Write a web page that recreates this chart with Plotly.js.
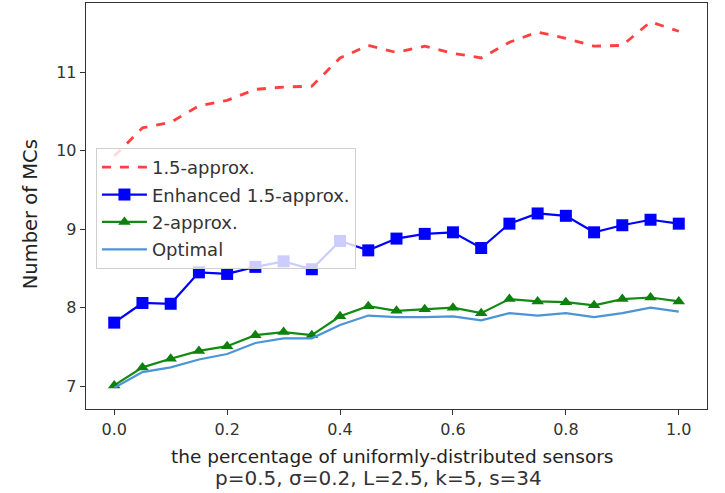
<!DOCTYPE html>
<html>
<head>
<meta charset="utf-8">
<script src="https://cdn.plot.ly/plotly-3.0.1.min.js"></script>
<style>html,body{margin:0;padding:0;background:#fff;}</style>
</head>
<body>
<div id="chart" style="width:725px;height:493px;"></div>
<script>
const xValues = [0.0,0.05,0.1,0.15,0.2,0.25,0.3,0.35,0.4,0.45,0.5,0.55,0.6,0.65,0.7,0.75,0.8,0.85,0.9,0.95,1.0];
const approx15 = [9.93,10.29,10.36,10.57,10.64,10.78,10.81,10.82,11.18,11.34,11.25,11.33,11.24,11.18,11.38,11.51,11.43,11.33,11.34,11.64,11.52];
const enhanced15 = [7.81,8.06,8.05,8.45,8.43,8.52,8.59,8.49,8.85,8.73,8.88,8.94,8.96,8.76,9.07,9.20,9.17,8.96,9.05,9.12,9.07];
const approx2 = [7.01,7.24,7.35,7.45,7.51,7.65,7.69,7.65,7.89,8.02,7.96,7.98,8.00,7.93,8.11,8.08,8.07,8.03,8.11,8.13,8.08];
const optimal = [6.98,7.18,7.24,7.34,7.41,7.55,7.61,7.61,7.78,7.90,7.88,7.88,7.89,7.84,7.93,7.90,7.93,7.88,7.93,8.00,7.95];
const seriesNames = ["1.5-approx.","Enhanced 1.5-approx.","2-approx.","Optimal"];
const xTicks = [0.0,0.2,0.4,0.6,0.8,1.0];
const xTickText = ["0.0","0.2","0.4","0.6","0.8","1.0"];
const yTicks = [7,8,9,10,11];
const xTitle = "the percentage of uniformly-distributed sensors";
const subTitle = "p=0.5, σ=0.2, L=2.5, k=5, s=34";
const yTitle = "Number of MCs";

const traces = [
  {x:xValues,y:approx15,name:seriesNames[0],mode:"lines",legendgroup:"a",
   line:{color:"rgba(255,30,30,0.85)",width:2.8,dash:"dash"}},
  {x:xValues,y:enhanced15,name:seriesNames[1],mode:"lines+markers",legendgroup:"b",
   line:{color:"#0000ff",width:2.2},marker:{symbol:"square",size:12,color:"#0000ff"}},
  {x:xValues,y:approx2,name:seriesNames[2],mode:"lines+markers",legendgroup:"c",
   line:{color:"#138a13",width:2.2},marker:{symbol:"triangle-up",size:11,color:"#0d800d"}},
  {x:xValues,y:optimal,name:seriesNames[3],mode:"lines",legendgroup:"d",
   line:{color:"#4b94d6",width:2.2}}
];

const layout = {
  width:725,height:493,
  margin:{l:86,r:18,t:3,b:84},
  paper_bgcolor:"#fff",plot_bgcolor:"#fff",
  font:{family:"DejaVu Sans, sans-serif",size:16,color:"#333"},
  showlegend:true,
  legend:{x:0.016,y:0.643,xanchor:"left",yanchor:"top",
    bgcolor:"rgba(255,255,255,0.8)",bordercolor:"#d0d0d0",borderwidth:1,
    font:{size:18,color:"#333"},tracegroupgap:1,traceorder:"grouped",itemwidth:45},
  xaxis:{range:[-0.05,1.05],tickvals:xTicks,ticktext:xTickText,
    showgrid:false,zeroline:false,showline:true,linecolor:"#333",linewidth:1.3,mirror:true,
    ticks:"outside",ticklen:5,tickcolor:"#333",tickfont:{size:16,color:"#333"}},
  yaxis:{range:[6.71,11.88],tickvals:yTicks,
    showgrid:false,zeroline:false,showline:true,linecolor:"#333",linewidth:1.3,mirror:true,
    ticks:"outside",ticklen:5,tickcolor:"#333",tickfont:{size:16,color:"#333"}},
  annotations:[
    {text:xTitle,xref:"paper",yref:"paper",x:0.5,y:-0.118,xanchor:"center",yanchor:"middle",
     showarrow:false,font:{size:18.5,color:"#222"},xshift:-4},
    {text:subTitle,xref:"paper",yref:"paper",x:0.5,y:-0.17,xanchor:"center",yanchor:"middle",
     showarrow:false,font:{size:20,color:"#333"},xshift:-18},
    {text:yTitle,xref:"paper",yref:"paper",x:-0.09,y:0.48,xanchor:"center",yanchor:"middle",
     textangle:-90,showarrow:false,font:{size:19.5,color:"#222"}}
  ]
};

Plotly.newPlot("chart",traces,layout,{staticPlot:true,displayModeBar:false});
</script>
</body>
</html>
